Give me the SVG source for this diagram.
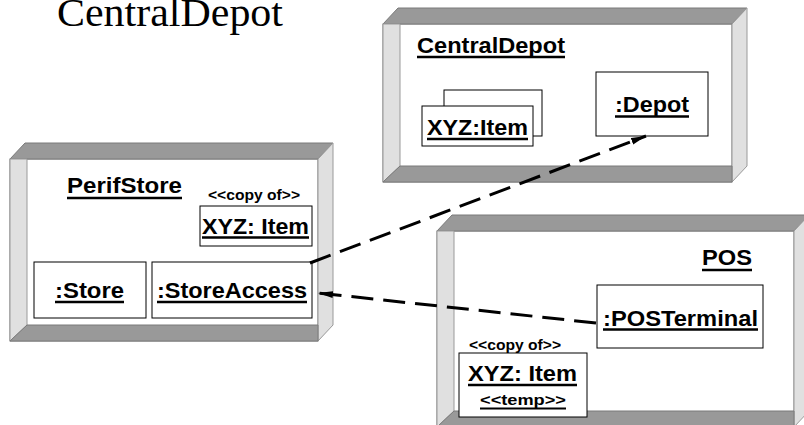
<svg xmlns="http://www.w3.org/2000/svg" width="804" height="425" viewBox="0 0 804 425">
  <defs>
    <style>
      .dark { fill: #999999; stroke: #7a7a7a; stroke-width: 1; }
      .light { fill: #e0e0e0; stroke: #9a9a9a; stroke-width: 1; }
      .face { fill: #ffffff; stroke: #7a7a7a; stroke-width: 1; }
      .obj { fill: #ffffff; stroke: #000000; stroke-width: 1; }
      .lbl { font-family: "Liberation Sans", Arial, sans-serif; font-weight: bold; font-size: 22.5px; fill: #000; }
      .small { font-family: "Liberation Sans", Arial, sans-serif; font-weight: bold; font-size: 14px; fill: #000; }
      .ul { stroke: #000; stroke-width: 2.5; }
      .ul2 { stroke: #000; stroke-width: 2; }
      .dep { fill: none; stroke: #000; stroke-width: 3; stroke-dasharray: 22 10; }
    </style>
    <marker id="arrow" markerUnits="userSpaceOnUse" markerWidth="16" markerHeight="10" refX="15" refY="5" orient="auto">
      <path d="M0,1.5 L15,5 L0,8.5 Z" fill="#000"/>
    </marker>
  </defs>

  <rect width="804" height="425" fill="#ffffff"/>

  <!-- heading -->
  <text x="57" y="26" font-family="'Liberation Serif', 'Times New Roman', serif" font-size="39" textLength="226" lengthAdjust="spacingAndGlyphs">CentralDepot</text>

  <!-- node: CentralDepot -->
  <g id="node-centraldepot">
    <rect class="face" x="383" y="24" width="349" height="158"/>
    <polygon class="dark" points="383,24 398,8 747,8 732,24"/>
    <polygon class="light" points="732,24 747,8 747,166 732,182"/>
    <polygon class="light" points="383,24 400,24 400,166 383,182"/>
    <polygon class="dark" points="383,182 400,166 732,166 732,182"/>
    <text class="lbl" x="417" y="53" textLength="148" lengthAdjust="spacingAndGlyphs">CentralDepot</text>
    <line class="ul" x1="417" y1="57" x2="565" y2="57"/>
    <g id="obj-central-item">
      <rect class="obj" x="444" y="90" width="98" height="46"/>
      <rect class="obj" x="422" y="106" width="111" height="40"/>
      <text class="lbl" x="427" y="135" textLength="101" lengthAdjust="spacingAndGlyphs">XYZ:Item</text>
      <line class="ul" x1="427" y1="139" x2="528" y2="139"/>
    </g>
    <g id="obj-depot">
      <rect class="obj" x="596" y="72" width="112" height="64"/>
      <text class="lbl" x="615" y="112" textLength="74" lengthAdjust="spacingAndGlyphs">:Depot</text>
      <line class="ul" x1="615" y1="116.5" x2="689" y2="116.5"/>
    </g>
  </g>

  <!-- node: PerifStore -->
  <g id="node-perifstore">
    <rect class="face" x="10" y="159" width="308" height="182"/>
    <polygon class="dark" points="10,159 25,143 333,143 318,159"/>
    <polygon class="light" points="318,159 333,143 333,325 318,341"/>
    <polygon class="light" points="10,159 27,159 27,325 10,341"/>
    <polygon class="dark" points="10,341 27,325 318,325 318,341"/>
    <text class="lbl" x="67" y="193" textLength="115" lengthAdjust="spacingAndGlyphs">PerifStore</text>
    <line class="ul" x1="67" y1="198" x2="182" y2="198"/>
    <g id="obj-perif-item">
      <text class="small" x="208" y="200" textLength="92" lengthAdjust="spacingAndGlyphs">&lt;&lt;copy of&gt;&gt;</text>
      <rect class="obj" x="200" y="206" width="112" height="40"/>
      <text class="lbl" x="202" y="234" textLength="107" lengthAdjust="spacingAndGlyphs">XYZ: Item</text>
      <line class="ul" x1="202" y1="237.5" x2="309" y2="237.5"/>
    </g>
    <g id="obj-store">
      <rect class="obj" x="34" y="262" width="112" height="56"/>
      <text class="lbl" x="55" y="298" textLength="69" lengthAdjust="spacingAndGlyphs">:Store</text>
      <line class="ul" x1="55" y1="302" x2="124" y2="302"/>
    </g>
    <g id="obj-storeaccess">
      <rect class="obj" x="152" y="262" width="160" height="56"/>
      <text class="lbl" x="157" y="298" textLength="150" lengthAdjust="spacingAndGlyphs">:StoreAccess</text>
      <line class="ul" x1="157" y1="302" x2="307" y2="302"/>
    </g>
  </g>

  <!-- node: POS -->
  <g id="node-pos">
    <rect class="face" x="437" y="231" width="357" height="196"/>
    <polygon class="dark" points="437,231 452,215 809,215 794,231"/>
    <polygon class="light" points="794,231 809,215 809,411 794,427"/>
    <polygon class="light" points="437,231 454,231 454,411 437,427"/>
    <polygon class="dark" points="437,427 454,411 794,411 794,427"/>
    <text class="lbl" x="702" y="265" textLength="50" lengthAdjust="spacingAndGlyphs">POS</text>
    <line class="ul" x1="702" y1="270" x2="752" y2="270"/>
    <g id="obj-posterminal">
      <rect class="obj" x="597" y="285" width="166" height="63"/>
      <text class="lbl" x="603" y="326" textLength="155" lengthAdjust="spacingAndGlyphs">:POSTerminal</text>
      <line class="ul" x1="603" y1="329.5" x2="758" y2="329.5"/>
    </g>
    <g id="obj-pos-item">
      <text class="small" x="469" y="350" textLength="92" lengthAdjust="spacingAndGlyphs">&lt;&lt;copy of&gt;&gt;</text>
      <rect class="obj" x="459" y="353" width="128" height="64"/>
      <text class="lbl" x="468" y="381" textLength="109" lengthAdjust="spacingAndGlyphs">XYZ: Item</text>
      <line class="ul" x1="468" y1="385" x2="577" y2="385"/>
      <text class="small" x="480" y="405" textLength="86" lengthAdjust="spacingAndGlyphs">&lt;&lt;temp&gt;&gt;</text>
      <line class="ul2" x1="480" y1="408.5" x2="566" y2="408.5"/>
    </g>
  </g>

  <!-- dependencies -->
  <g id="connectors">
    <line class="dep" x1="310" y1="263" x2="646" y2="136" marker-end="url(#arrow)"/>
    <line class="dep" x1="596" y1="323" x2="318" y2="293" marker-end="url(#arrow)"/>
  </g>
</svg>
